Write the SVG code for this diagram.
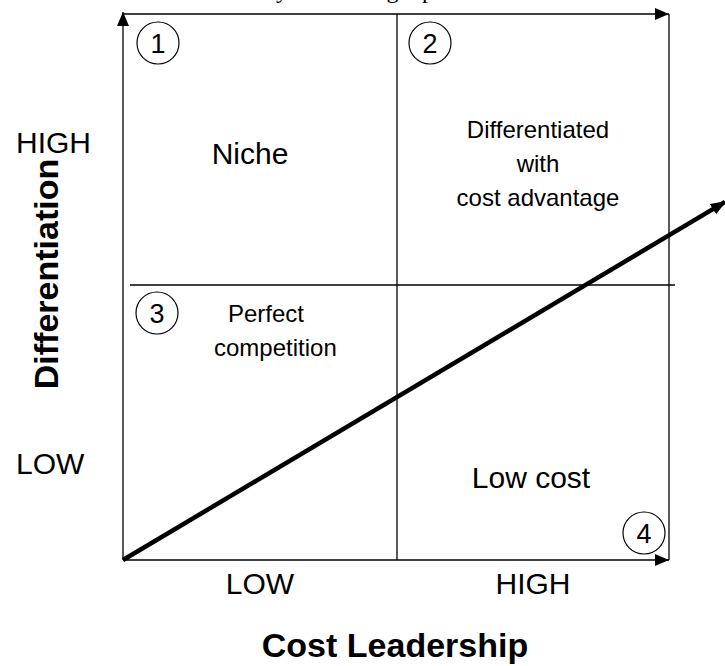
<svg xmlns="http://www.w3.org/2000/svg" width="725" height="666" viewBox="0 0 725 666">
<style>
.ln{stroke:#000;stroke-width:1.3;fill:none}
.t{font-family:"Liberation Sans",Arial,sans-serif;font-size:30px;fill:#000}
.m{text-anchor:middle}
.s{font-size:24px}
.b{font-weight:bold;font-size:34px}
.c{fill:#fff;stroke:#000;stroke-width:1.2}
.n{font-family:"Liberation Sans",Arial,sans-serif;font-size:27px;fill:#000;text-anchor:middle}
</style>
<defs>
<marker id="ah" markerWidth="14" markerHeight="12" refX="14" refY="6" orient="auto" markerUnits="userSpaceOnUse">
<path d="M0,0 L14,6 L0,12 Z" fill="#000"/>
</marker>
<marker id="ahb" markerWidth="16" markerHeight="12" refX="14" refY="6" orient="auto" markerUnits="userSpaceOnUse">
<path d="M0,0 L16,6 L0,12 Z" fill="#000"/>
</marker>
</defs>
<text x="208" y="-2" font-family="'Liberation Serif',serif" font-size="24">Industry and strategic position</text>
<g id="connectors">
<line class="ln" x1="123" y1="560" x2="123" y2="12" marker-end="url(#ah)"/>
<line class="ln" x1="123" y1="14" x2="669" y2="14" marker-end="url(#ah)"/>
<line class="ln" x1="669" y1="14" x2="669" y2="560"/>
<line class="ln" x1="123" y1="560" x2="669" y2="560" marker-end="url(#ah)"/>
<line class="ln" x1="397" y1="14" x2="397" y2="560"/>
<line class="ln" x1="130" y1="285" x2="675" y2="285"/>
<line x1="123" y1="560" x2="725" y2="202" stroke="#000" stroke-width="4.5" marker-end="url(#ahb)"/>
</g>
<g id="q1"><circle class="c" cx="158" cy="43" r="21"/><text class="n" x="158" y="53">1</text>
<text class="t m" x="250" y="164">Niche</text></g>
<g id="q2"><circle class="c" cx="430" cy="43" r="21"/><text class="n" x="430" y="53">2</text>
<text class="t m s" x="538" y="138">Differentiated</text>
<text class="t m s" x="538" y="172">with</text>
<text class="t m s" x="538" y="206">cost advantage</text></g>
<g id="q3"><circle class="c" cx="157" cy="313" r="21"/><text class="n" x="157" y="323">3</text>
<text class="t s" x="228" y="322">Perfect</text>
<text class="t s" x="214" y="356">competition</text></g>
<g id="q4"><circle class="c" cx="644" cy="533" r="21"/><text class="n" x="644" y="543">4</text>
<text class="t m" x="531" y="488" font-size="32">Low cost</text></g>
<g id="ylabels">
<text class="t" x="16" y="153">HIGH</text>
<text class="t" x="16" y="474">LOW</text>
<text class="t b m" transform="translate(58,274) rotate(-90)" font-size="29">Differentiation</text>
</g>
<g id="xlabels">
<text class="t m" x="260" y="594">LOW</text>
<text class="t m" x="533" y="594">HIGH</text>
<text class="t b m" x="395" y="657">Cost Leadership</text>
</g>
</svg>
